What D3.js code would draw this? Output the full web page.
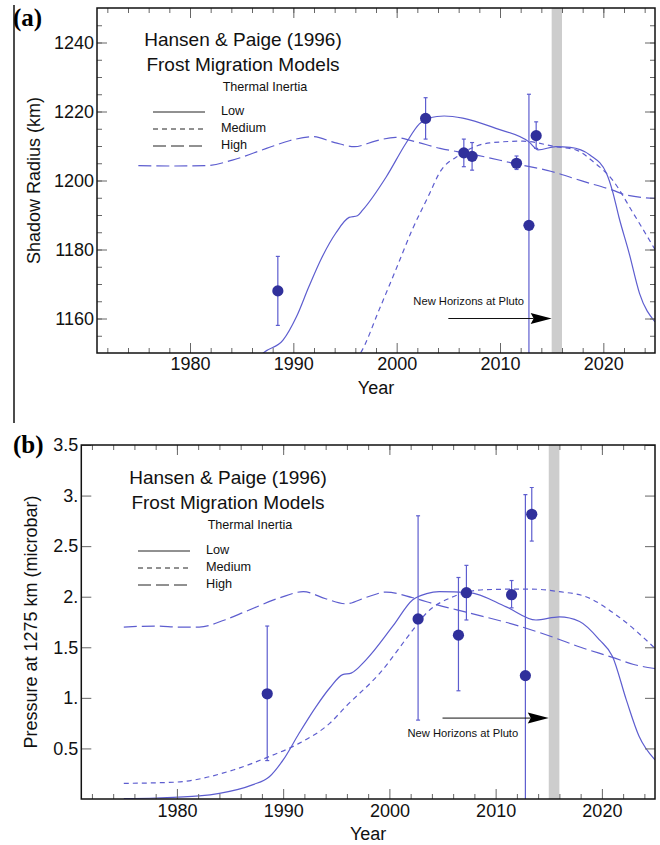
<!DOCTYPE html>
<html lang="en">
<head>
<meta charset="UTF-8">
<title>Pluto - Hansen &amp; Paige (1996) frost migration models</title>
<script src="https://d3js.org/d3.v7.min.js"></script>
<style>
  body { margin: 0; background: #fff; }
  svg { display: block; font-family: "Liberation Sans", Arial, sans-serif; }
</style>
</head>
<body>
<div id="chart"></div>
<script>
// ---- data ----
var yearDomain = [1971, 2025];
var yearMajor = [1980, 1990, 2000, 2010, 2020];
var yearMinor = d3.range(1972, 2025, 2);
var newHorizons = [2015, 2016];   // grey band
var arrowYears = [2005, 2015];

// (a) shadow radius, km
var radiusLow = [[1986.5,1148],[1987.1,1150],[1989.0,1153.7],[1990.3,1160.5],[1991.5,1169.2],[1992.8,1177.9],
  [1994.1,1184.7],[1995.4,1189.3],[1996.2,1189.8],[1996.7,1191.4],[1999.0,1201.1],[2000.9,1210.8],
  [2002.2,1216.4],[2003.2,1218.2],[2004.6,1218.7],[2006.4,1218.1],[2009.6,1215.1],[2012.8,1211.2],
  [2013.7,1208.9],[2015.4,1209.8],[2016.8,1209.6],[2018.7,1207.4],[2020.3,1202.1],[2020.9,1196.8],
  [2021.5,1189.5],[2022.5,1178.9],[2023.5,1167.3],[2025.0,1159.0]];
var radiusMedium = [[1996.0,1148],[1996.5,1150],[1998.3,1162.5],[1999.9,1174],[2001.5,1185.7],[2003.2,1196.3],
  [2004.1,1202],[2006.1,1207.4],[2009.0,1210.9],[2012.2,1211.4],[2015.4,1209.8],[2017.4,1208.8],
  [2019.0,1205.5],[2020.9,1200.1],[2022.9,1190.5],[2025.0,1180]];
var radiusHigh = [[1975,1204.3],[1978,1204.2],[1981.6,1204.3],[1984.1,1205.9],[1987.4,1209.3],[1989.7,1211.6],
  [1991.9,1212.7],[1994,1211],[1995.9,1209.8],[1998,1211.5],[1999.9,1212.5],[2001.5,1211.5],[2004.2,1209.3],
  [2007,1207.8],[2011.6,1204.8],[2015,1202.6],[2018,1199.8],[2020.9,1197.2],[2022.2,1195.8],[2025,1194.8]];
// year, value, low end, high end of error bar
var radiusObs = [[1988.5,1168,1158,1178],[2002.8,1218,1212,1224],[2006.5,1208,1204,1212],[2007.3,1207,1203,1211],
  [2011.6,1205,1203.2,1207.1],[2012.8,1187,1140,1225],[2013.5,1213,1209.3,1217]];
var radiusMajor = [1160, 1180, 1200, 1220, 1240];
var radiusMinor = d3.range(1155, 1250, 5);

// (b) pressure at 1275 km, microbar
var pressLow = [[1975,0.005],[1978,0.01],[1982.1,0.03],[1984,0.056],[1987.1,0.14],[1988.7,0.22],[1990,0.386],
  [1991.5,0.65],[1993.1,0.914],[1994.4,1.10],[1995.6,1.23],[1996.4,1.245],[1997.8,1.376],[2000.3,1.706],
  [2002.2,1.97],[2003.5,2.03],[2004.7,2.05],[2007.5,2.04],[2011,1.90],[2013.8,1.77],[2016,1.80],
  [2017.9,1.755],[2019.8,1.57],[2021,1.41],[2022.3,0.98],[2023.5,0.62],[2025,0.386]];
var pressMedium = [[1975,0.155],[1978,0.16],[1980.3,0.17],[1985.3,0.287],[1988.7,0.42],[1991.5,0.55],
  [1994.4,0.75],[1995.9,0.914],[1999.1,1.245],[2002.2,1.67],[2003.5,1.84],[2006,2.0],[2009.1,2.07],
  [2013.2,2.076],[2016,2.05],[2018.5,2.0],[2021.6,1.80],[2025,1.49]];
var pressHigh = [[1975,1.70],[1978,1.71],[1980.3,1.70],[1982.1,1.70],[1984.5,1.77],[1986.5,1.855],[1989.7,1.99],
  [1991.9,2.05],[1994,1.98],[1995.9,1.93],[1998,2.0],[1999.7,2.046],[2002.2,1.99],[2004.5,1.92],[2007.5,1.84],
  [2012.2,1.71],[2015.4,1.60],[2018,1.50],[2021,1.40],[2023,1.33],[2025,1.29]];
var pressObs = [[1988.5,1.04,0.38,1.71],[2002.7,1.78,0.78,2.80],[2006.5,1.62,1.07,2.19],[2007.25,2.04,1.77,2.31],
  [2011.5,2.02,1.89,2.16],[2012.8,1.22,-0.2,3.01],[2013.4,2.815,2.55,3.08]];
var pressMajor = [0.5, 1, 1.5, 2, 2.5, 3, 3.5];

var legendNames = ["Low", "Medium", "High"];
var dashes = ["none", "5,4", "13,5"];

var lineColor = "#5d5dcf", dotColor = "#30309b";

var svg = d3.select("#chart").append("svg")
    .attr("width", 660)
    .attr("height", 845);

// the thin rule at the left of panel (a)
svg.append("line").attr("x1", 14).attr("x2", 14).attr("y1", 5).attr("y2", 423)
    .attr("stroke", "#111").attr("stroke-width", 1.5);

var panels = [
  { id: "a", letter: "(a)", left: 97, top: 8, right: 655, bottom: 353,
    yDomain: [1150, 1250], yMajor: radiusMajor, yMinor: radiusMinor,
    yFormat: function(d) { return d; },
    yTitle: "Shadow Radius (km)", yTitleX: 40,
    curves: [radiusLow, radiusMedium, radiusHigh], obs: radiusObs, arrowValue: 1160, noteDy: -14,
    letterY: 26, titleX: 243, titleY: 46, legendY: 112, legendX: 153, xPad: 4, yearY: 394 },
  { id: "b", letter: "(b)", left: 81.3, top: 445, right: 655, bottom: 799,
    yDomain: [0, 3.5], yMajor: pressMajor, yMinor: [],
    yFormat: function(d) { return Number.isInteger(d) ? d + "." : d; },
    yTitle: "Pressure at 1275 km (microbar)", yTitleX: 37,
    curves: [pressLow, pressMedium, pressHigh], obs: pressObs, arrowValue: 0.8, noteDy: 18.5,
    letterY: 453, titleX: 228, titleY: 484, legendY: 551, legendX: 138, xPad: 5, yearY: 840 }
];

panels.forEach(drawPanel);

function drawPanel(p) {
  var x = d3.scaleLinear().domain(yearDomain).range([p.left, p.right]);
  var y = d3.scaleLinear().domain(p.yDomain).range([p.bottom, p.top]);
  var w = p.right - p.left, h = p.bottom - p.top;

  var g = svg.append("g");

  g.append("clipPath").attr("id", "clip-" + p.id)
    .append("rect").attr("x", p.left).attr("y", p.top).attr("width", w).attr("height", h);

  var plot = g.append("g").attr("clip-path", "url(#clip-" + p.id + ")");

  // New Horizons band
  plot.append("rect")
      .attr("x", x(newHorizons[0])).attr("y", p.top)
      .attr("width", x(newHorizons[1]) - x(newHorizons[0])).attr("height", h)
      .attr("fill", "#cdcdcd");

  var line = d3.line()
      .x(function(d) { return x(d[0]); })
      .y(function(d) { return y(d[1]); })
      .curve(d3.curveMonotoneX);

  p.curves.forEach(function(c, i) {
    plot.append("path").datum(c)
        .attr("d", line)
        .attr("fill", "none")
        .attr("stroke", lineColor)
        .attr("stroke-width", 1.2)
        .attr("stroke-dasharray", dashes[i]);
  });

  // error bars
  var bars = plot.selectAll(".err").data(p.obs).enter().append("g");
  bars.append("line")
      .attr("x1", function(d) { return x(d[0]); }).attr("x2", function(d) { return x(d[0]); })
      .attr("y1", function(d) { return y(d[2]); }).attr("y2", function(d) { return y(d[3]); })
      .attr("stroke", lineColor).attr("stroke-width", 1.2);
  [2, 3].forEach(function(k) {
    bars.append("line")
        .attr("x1", function(d) { return x(d[0]) - 2; }).attr("x2", function(d) { return x(d[0]) + 2; })
        .attr("y1", function(d) { return y(d[k]); }).attr("y2", function(d) { return y(d[k]); })
        .attr("stroke", lineColor).attr("stroke-width", 1.2);
  });
  plot.selectAll(".dot").data(p.obs).enter().append("circle")
      .attr("cx", function(d) { return x(d[0]); })
      .attr("cy", function(d) { return y(d[1]); })
      .attr("r", 5.6)
      .attr("fill", dotColor);

  // arrow
  var ay = y(p.arrowValue), tip = x(arrowYears[1]);
  g.append("line").attr("x1", x(arrowYears[0])).attr("x2", tip - 18).attr("y1", ay).attr("y2", ay)
      .attr("stroke", "#111").attr("stroke-width", 1);
  g.append("path")
      .attr("d", "M" + tip + "," + ay + "L" + (tip - 21) + "," + (ay - 5.5) +
                 "L" + (tip - 18) + "," + ay + "L" + (tip - 21) + "," + (ay + 5.5) + "Z")
      .attr("fill", "#000");
  g.append("text")
      .attr("x", x(arrowYears[0]) - 35).attr("y", ay + p.noteDy)
      .attr("font-size", 11.2).attr("fill", "#111")
      .text("New Horizons at Pluto");

  // axes with inward ticks
  function styleAxis(sel) {
    sel.select(".domain").remove();
    sel.selectAll(".tick line").attr("stroke", "#666").attr("stroke-width", 1);
    sel.selectAll(".tick text").attr("font-size", 18).attr("fill", "#111")
       .attr("font-family", "'Liberation Sans', Arial, sans-serif");
  }
  g.append("g").attr("transform", "translate(0," + p.bottom + ")")
      .call(d3.axisBottom(x).tickValues(yearMajor).tickFormat(d3.format("d")).tickSize(-10).tickPadding(p.xPad))
      .call(styleAxis);
  g.append("g").attr("transform", "translate(0," + p.bottom + ")")
      .call(d3.axisBottom(x).tickValues(yearMinor.filter(function(v) { return yearMajor.indexOf(v) < 0; }))
            .tickFormat("").tickSize(-5))
      .call(styleAxis);
  g.append("g").attr("transform", "translate(0," + p.top + ")")
      .call(d3.axisTop(x).tickValues(yearMajor).tickFormat("").tickSize(-10))
      .call(styleAxis);
  g.append("g").attr("transform", "translate(0," + p.top + ")")
      .call(d3.axisTop(x).tickValues(yearMinor).tickFormat("").tickSize(-5))
      .call(styleAxis);

  g.append("g").attr("transform", "translate(" + p.left + ",0)")
      .call(d3.axisLeft(y).tickValues(p.yMajor).tickFormat(p.yFormat).tickSize(-10).tickPadding(3))
      .call(styleAxis);
  g.append("g").attr("transform", "translate(" + p.left + ",0)")
      .call(d3.axisLeft(y).tickValues(p.yMinor).tickFormat("").tickSize(-5))
      .call(styleAxis);
  g.append("g").attr("transform", "translate(" + p.right + ",0)")
      .call(d3.axisRight(y).tickValues(p.yMajor).tickFormat("").tickSize(-10))
      .call(styleAxis);
  g.append("g").attr("transform", "translate(" + p.right + ",0)")
      .call(d3.axisRight(y).tickValues(p.yMinor).tickFormat("").tickSize(-5))
      .call(styleAxis);

  // frame
  g.append("rect").attr("x", p.left).attr("y", p.top).attr("width", w).attr("height", h)
      .attr("fill", "none").attr("stroke", "#111").attr("stroke-width", 1.5);

  // axis titles
  g.append("text")
      .attr("x", (p.left + p.right) / 2).attr("y", p.yearY)
      .attr("text-anchor", "middle").attr("font-size", 18).attr("fill", "#111")
      .text("Year");
  g.append("text")
      .attr("transform", "translate(" + p.yTitleX + "," + ((p.top + p.bottom) / 2) + ") rotate(-90)")
      .attr("text-anchor", "middle").attr("font-size", 18).attr("fill", "#111")
      .text(p.yTitle);

  // panel letter
  g.append("text")
      .attr("x", 13).attr("y", p.letterY)
      .attr("font-family", "'Liberation Serif', 'Times New Roman', serif")
      .attr("font-weight", "bold").attr("font-size", 25).attr("fill", "#000")
      .text(p.letter);

  // legend block
  g.append("text").attr("x", p.titleX).attr("y", p.titleY)
      .attr("text-anchor", "middle").attr("font-size", 19).attr("fill", "#111")
      .text("Hansen & Paige (1996)");
  g.append("text").attr("x", p.titleX).attr("y", p.titleY + 24.5)
      .attr("text-anchor", "middle").attr("font-size", 19).attr("fill", "#111")
      .text("Frost Migration Models");
  g.append("text").attr("x", p.titleX + 22).attr("y", p.titleY + 45)
      .attr("text-anchor", "middle").attr("font-size", 12.6).attr("fill", "#111")
      .text("Thermal Inertia");

  legendNames.forEach(function(name, i) {
    var ly = p.legendY + i * 17;
    g.append("line")
        .attr("x1", p.legendX).attr("x2", p.legendX + 52).attr("y1", ly).attr("y2", ly)
        .attr("stroke", "#222").attr("stroke-width", 1)
        .attr("stroke-dasharray", dashes[i]);
    g.append("text")
        .attr("x", p.legendX + 68).attr("y", ly + 3).attr("font-size", 12.7).attr("fill", "#111")
        .text(name);
  });
}
</script>
</body>
</html>
